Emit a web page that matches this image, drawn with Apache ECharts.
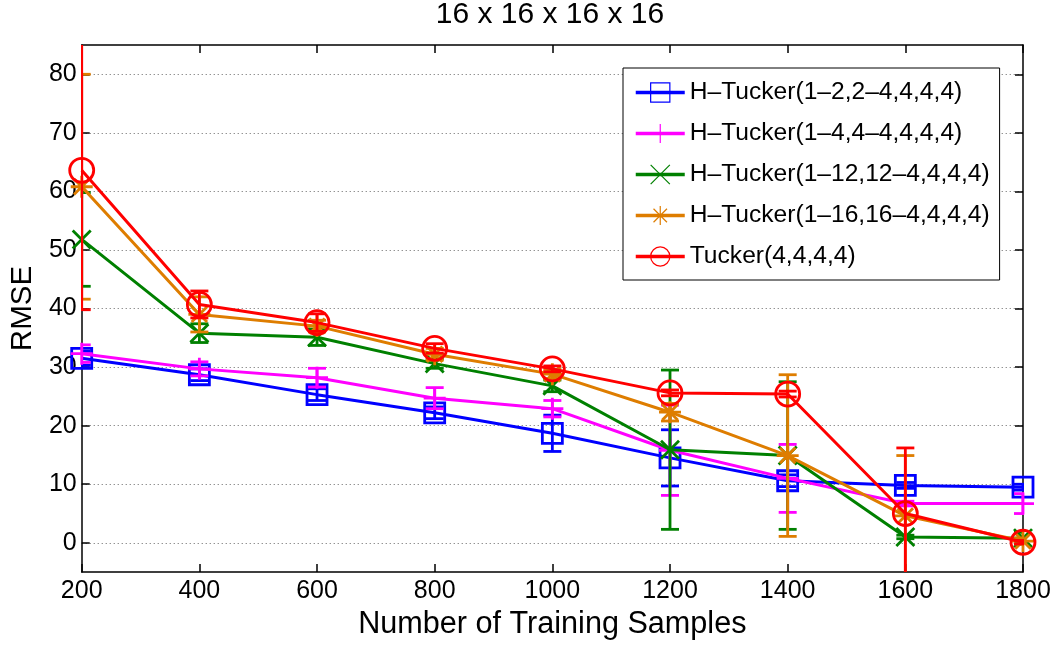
<!DOCTYPE html>
<html>
<head>
<meta charset="utf-8">
<script src="https://cdn.jsdelivr.net/npm/echarts@6/dist/echarts.min.js"></script>
<style>
  html, body { margin: 0; padding: 0; background: #fff; }
  #chart { width: 1056px; height: 645px; }
</style>
</head>
<body>
<div id="chart"></div>
<script>
// x positions (number of training samples) and y tick labels
const samples = [200, 400, 600, 800, 1000, 1200, 1400, 1600, 1800];
const yTicks = [0, 10, 20, 30, 40, 50, 60, 70, 80];

const seriesNames = [
  'H\u2013Tucker(1\u20132,2\u20134,4,4,4)',
  'H\u2013Tucker(1\u20134,4\u20134,4,4,4)',
  'H\u2013Tucker(1\u201312,12\u20134,4,4,4)',
  'H\u2013Tucker(1\u201316,16\u20134,4,4,4)',
  'Tucker(4,4,4,4)'
];

// mean RMSE and half-width of the error bar
const rmseHT2 = [31.5, 28.7, 25.3, 22.2, 18.7, 14.5, 10.6, 9.8, 9.5];
const errHT2 = [1.2, 1.0, 1.0, 1.0, 3.1, 4.8, 1.0, 0.5, 0.5];

const rmseHT4 = [32.3, 29.7, 28.2, 24.7, 22.9, 15.8, 11.0, 6.7, 6.7];
const errHT4 = [1.5, 1.2, 1.6, 1.8, 1.4, 7.7, 5.8, 0.4, 1.7];

const rmseHT12 = [51.8, 35.8, 35.1, 30.6, 26.8, 15.9, 14.9, 1.0, 0.8];
const errHT12 = [8.0, 1.6, 1.4, 0.8, 1.0, 13.6, 12.6, 0.3, 1.0];

const rmseHT16 = [60.8, 39.0, 37.0, 32.2, 28.8, 22.3, 14.9, 4.6, 0.3];
const errHT16 = [19.2, 3.0, 1.0, 1.0, 0.8, 1.5, 13.8, 10.3, 0.5];

const rmseTucker = [63.6, 40.7, 37.6, 33.2, 29.7, 25.6, 25.4, 5.0, 0.1];
const errTucker = [23.8, 2.3, 1.5, 0.8, 0.5, 0.5, 0.5, 11.2, 0.3];

const FONT = '"Liberation Sans", Arial, Helvetica, sans-serif';

const plusPath = 'path://M0,-10L0,10M-10,0L10,0';
const crossPath = 'path://M-10,-10L10,10M-10,10L10,-10';
const starPath = 'path://M0,-10L0,10M-10,0L10,0M-7,-7L7,7M-7,7L7,-7';

const styles = [
  { color: '#0000ff', symbol: 'rect', size: 20 },
  { color: '#ff00ff', symbol: plusPath, size: 22 },
  { color: '#008000', symbol: crossPath, size: 18 },
  { color: '#de7d00', symbol: starPath, size: 22 },
  { color: '#ff0000', symbol: 'circle', size: 24 }
];

const allRmse = [rmseHT2, rmseHT4, rmseHT12, rmseHT16, rmseTucker];
const allErr = [errHT2, errHT4, errHT12, errHT16, errTucker];

// draws one vertical error bar with caps
function errorBar(color) {
  return function (params, api) {
    const x = api.value(0);
    const lo = api.coord([x, api.value(1)]);
    const hi = api.coord([x, api.value(2)]);
    const half = 9;
    const style = { stroke: color, lineWidth: 2.8 };
    return {
      type: 'group',
      children: [
        { type: 'line', shape: { x1: lo[0], y1: lo[1], x2: hi[0], y2: hi[1] }, style },
        { type: 'line', shape: { x1: lo[0] - half, y1: lo[1], x2: lo[0] + half, y2: lo[1] }, style },
        { type: 'line', shape: { x1: hi[0] - half, y1: hi[1], x2: hi[0] + half, y2: hi[1] }, style }
      ]
    };
  };
}

let series = [];
seriesNames.forEach((name, k) => {
  const st = styles[k];
  series.push({
    name: name,
    type: 'line',
    data: samples.map((x, i) => [x, allRmse[k][i]]),
    symbol: st.symbol,
    symbolSize: st.size,
    showAllSymbol: true,
    lineStyle: { color: st.color, width: 3 },
    itemStyle: { color: 'none', borderColor: st.color, borderWidth: 2.8 },
    emphasis: { disabled: true },
    z: 2 + k
  });
  series.push({
    name: 'err' + k,
    type: 'custom',
    clip: true,
    data: samples.map((x, i) => [x, allRmse[k][i] - allErr[k][i], allRmse[k][i] + allErr[k][i]]),
    renderItem: errorBar(st.color),
    z: 2 + k
  });
});

const axisLineStyle = { color: '#000', width: 1.5 };

const chart = echarts.init(document.getElementById('chart'));
chart.setOption({
  animation: false,
  textStyle: { fontFamily: FONT },
  title: {
    text: '16 x 16 x 16 x 16',
    left: 550,
    top: 0,
    padding: 0,
    textAlign: 'center',
    textStyle: { fontSize: 30, fontWeight: 'normal', color: '#000', fontFamily: FONT }
  },
  grid: { left: 78, right: 33, top: 45, bottom: 65 },
  legend: {
    orient: 'vertical',
    left: 623,
    top: 68,
    padding: [12, 10, 11, 11],
    itemWidth: 49,
    itemHeight: 24,
    itemGap: 16,
    borderColor: '#000',
    borderWidth: 1,
    backgroundColor: '#fff',
    borderRadius: 0,
    data: seriesNames,
    itemStyle: { borderWidth: 1.2 },
    lineStyle: { width: 3.5 },
    textStyle: { fontSize: 24.6, color: '#000', fontFamily: FONT }
  },
  xAxis: [
    {
      type: 'value', min: 200, max: 1800, interval: 200, position: 'bottom',
      axisLine: { onZero: false, lineStyle: axisLineStyle },
      axisTick: { inside: true, length: 8, lineStyle: axisLineStyle },
      axisLabel: { fontSize: 25, color: '#000', margin: 7, fontFamily: FONT, formatter: v => String(v) },
      splitLine: { show: false },
      name: 'Number of Training Samples',
      nameLocation: 'middle',
      nameGap: 29,
      nameTextStyle: { fontSize: 30.6, color: '#000', fontFamily: FONT }
    },
    {
      type: 'value', min: 200, max: 1800, interval: 200, position: 'top',
      axisLine: { onZero: false, lineStyle: axisLineStyle },
      axisTick: { inside: true, length: 8, lineStyle: axisLineStyle },
      axisLabel: { show: false },
      splitLine: { show: false }
    }
  ],
  yAxis: [
    {
      type: 'value', min: -5, max: 85, position: 'left',
      axisLine: { show: true, onZero: false, lineStyle: axisLineStyle },
      axisTick: { show: true, inside: true, length: 8, lineStyle: axisLineStyle, customValues: yTicks },
      axisLabel: { fontSize: 25, color: '#000', margin: 5, fontFamily: FONT, customValues: yTicks },
      splitLine: { show: true, lineStyle: { type: [1, 3], color: '#666', width: 1 } },
      name: 'RMSE',
      nameLocation: 'middle',
      nameGap: 38,
      nameRotate: 90,
      nameTextStyle: { fontSize: 29.5, color: '#000', fontFamily: FONT }
    },
    {
      type: 'value', min: -5, max: 85, position: 'right',
      axisLine: { show: true, onZero: false, lineStyle: axisLineStyle },
      axisTick: { show: true, inside: true, length: 8, lineStyle: axisLineStyle, customValues: yTicks },
      axisLabel: { show: false },
      splitLine: { show: false }
    }
  ],
  series: series
});
</script>
</body>
</html>
